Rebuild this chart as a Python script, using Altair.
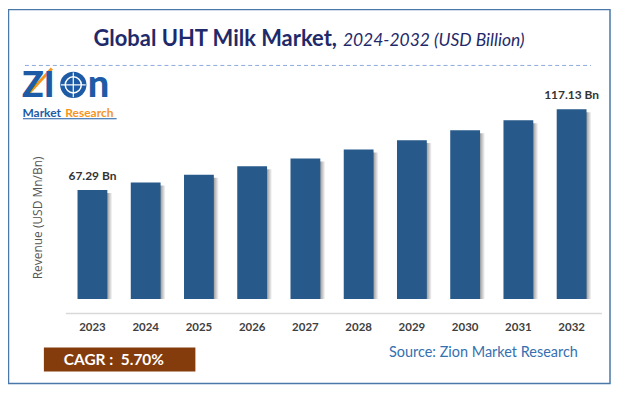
import altair as alt
import pandas as pd

# ---- data ----
years = ["2023", "2024", "2025", "2026", "2027", "2028", "2029", "2030", "2031", "2032"]
revenue = [67.29, 72.0, 76.7, 81.9, 86.8, 92.3, 98.1, 104.2, 110.4, 117.13]
bar_labels = ["67.29 Bn", "", "", "", "", "", "", "", "", "117.13 Bn"]

title_main = "Global UHT Milk Market,"
title_sub = "2024-2032 (USD Billion)"
y_title = "Revenue (USD Mn/Bn)"
cagr_text = "CAGR :\u00a0\u00a05.70%"
source_text = "Source: Zion Market Research"

df = pd.DataFrame({"year": years, "revenue": revenue, "label": bar_labels})

W, H = 606, 380
BASE_Y = 305.8
FONT = "Lato"

xs = alt.Scale(domain=years, range=[58, 592.2], paddingInner=0.44, paddingOuter=0.22)
ys = alt.Scale(domain=[-8.89, 120], range=[BASE_Y, 96.35], zero=False, nice=False)
X = alt.X("year:N", scale=xs, axis=None)
Y = alt.Y("revenue:Q", scale=ys, axis=None)

base = alt.Chart(df)


def one():
    return alt.Chart(pd.DataFrame({"t": [""]}))


def txt(s, x, y, **kw):
    return alt.Chart(pd.DataFrame({"t": [s]})).mark_text(**kw).encode(
        x=alt.value(x), y=alt.value(y), text="t:N"
    )


border = one().mark_rect(fillOpacity=0, stroke="#4a78a8", strokeWidth=1.5).encode(
    x=alt.value(0.5), x2=alt.value(604), y=alt.value(1), y2=alt.value(376)
)

dashed = one().mark_rule(color="#8eaadb", strokeWidth=1, strokeDash=[4, 3]).encode(
    x=alt.value(17), x2=alt.value(585), y=alt.value(57)
)

t_main = txt(title_main, 330, 37, font=FONT, fontWeight="bold", fontSize=22,
             color="#1f2a6b", align="right", baseline="alphabetic")
t_sub = txt(title_sub, 336, 37, font=FONT, fontStyle="italic", fontSize=17.5,
            color="#1f2a6b", align="left", baseline="alphabetic")

# logo
logo_z = txt("ZI", 14, 89, font=FONT, fontWeight=900, fontSize=36, color="#1d5ba6",
             align="left", baseline="alphabetic")
logo_globe = one().mark_point(filled=True, shape="circle", size=700, color="#1d5ba6", opacity=1).encode(
    x=alt.value(65.5), y=alt.value(76.5))
logo_globe2 = one().mark_point(filled=False, shape="circle", size=260, color="#ffffff", strokeWidth=1.5, opacity=1).encode(
    x=alt.value(65.5), y=alt.value(76.5))
logo_globe3 = one().mark_rule(color="#ffffff", strokeWidth=1.2).encode(
    x=alt.value(65.5), y=alt.value(64), y2=alt.value(89))
logo_globe4 = one().mark_rule(color="#ffffff", strokeWidth=1.2).encode(
    x=alt.value(53), x2=alt.value(78), y=alt.value(76.5))
logo_n = txt("n", 80, 89, font=FONT, fontWeight=900, fontSize=38, color="#1d5ba6",
             align="left", baseline="alphabetic")
logo_arrow = one().mark_rule(color="#f7941d", strokeWidth=3).encode(
    x=alt.value(18), x2=alt.value(44), y=alt.value(88), y2=alt.value(60))
logo_m = txt("Market", 14.5, 108.5, font=FONT, fontWeight="bold", fontSize=12, color="#1d5ba6",
             align="left", baseline="alphabetic")
logo_r = txt("Research", 57.5, 108.5, font=FONT, fontWeight="bold", fontSize=12, color="#f7941d",
             align="left", baseline="alphabetic")
logo_ul = one().mark_rule(color="#1d5ba6", strokeWidth=1).encode(
    x=alt.value(15), x2=alt.value(109), y=alt.value(110.5))

shadow = base.mark_bar(
    xOffset=5, yOffset=3,
    color=alt.Gradient(
        gradient="linear",
        stops=[alt.GradientStop(offset=0, color="#8c8c8c"),
               alt.GradientStop(offset=0.8, color="#8c8c8c"),
               alt.GradientStop(offset=1, color="#ffffff")],
        x1=0, x2=1, y1=0, y2=0),
).encode(x=X, y=Y, y2=alt.value(BASE_Y))

bars = base.mark_bar(color="#27598a").encode(x=X, y=Y, y2=alt.value(BASE_Y))

labels = base.transform_filter("datum.label != ''").mark_text(
    font=FONT, fontWeight="bold", fontSize=12, color="#333333", dy=-10, baseline="alphabetic"
).encode(x=X, y=Y, text="label:N")

baseline = one().mark_rule(color="#d9d9d9", strokeWidth=1.5).encode(
    x=alt.value(58), x2=alt.value(596), y=alt.value(306))

year_labels = base.mark_text(
    font=FONT, fontWeight="bold", fontSize=11.5, color="#404040", baseline="middle"
).encode(x=X, y=alt.value(320.5), text="year:N")

ytitle = txt(y_title, 30, 210, font="Open Sans", fontSize=12, color="#555555", angle=270,
             align="center", baseline="middle")

cagr_box = one().mark_rect(color="#843c0c").encode(
    x=alt.value(36), x2=alt.value(188), y=alt.value(340), y2=alt.value(364))
cagr = txt(cagr_text, 56, 353, font=FONT, fontWeight="bold", fontSize=15.5, color="#ffffff",
           align="left", baseline="middle")

source = txt(source_text, 477, 346, font=FONT, fontSize=14.5, color="#3570b0",
             align="center", baseline="middle")

chart = alt.layer(
    border, dashed, t_main, t_sub,
    logo_arrow, logo_z, logo_globe, logo_globe2, logo_globe3, logo_globe4, logo_n, logo_m, logo_r, logo_ul,
    shadow, bars, labels, baseline, year_labels, ytitle, cagr_box, cagr, source,
).properties(
    width=W, height=H, padding=0, autosize=alt.AutoSizeParams(type="none"),
    background="white",
).configure_view(stroke=None)

chart.save("out.html", embed_options={"renderer": "svg", "actions": False})
